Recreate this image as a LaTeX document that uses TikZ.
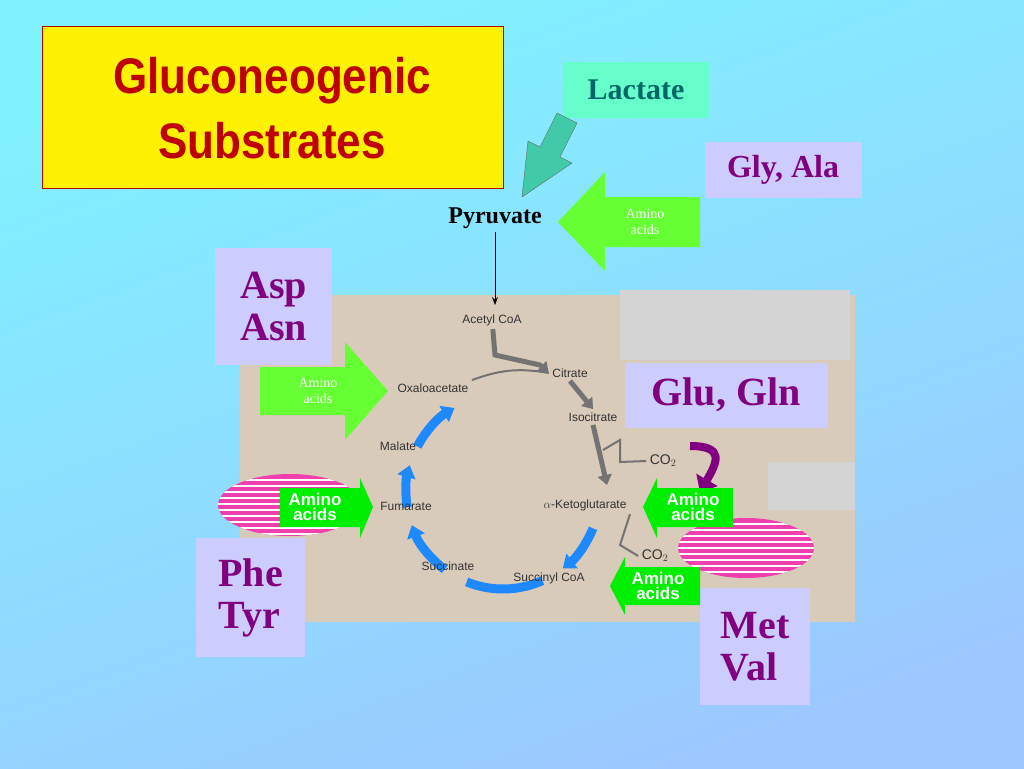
\documentclass[tikz,border=0pt]{standalone}
\usepackage{fontspec}
\setmainfont{Liberation Serif}
\setsansfont{Liberation Sans}
\usetikzlibrary{calc,arrows.meta}
\definecolor{skytop}{HTML}{80F2FF}
\definecolor{skybot}{HTML}{9CC8FF}
\definecolor{lav}{HTML}{CCCCFF}
\definecolor{purp}{HTML}{800080}
\definecolor{tan}{HTML}{D9CBB9}
\definecolor{aqua}{HTML}{66FFCC}
\definecolor{teal}{HTML}{006666}
\definecolor{lgreen}{HTML}{66FF33}
\definecolor{bgreen}{HTML}{00EE00}
\definecolor{cycblue}{HTML}{1E88FF}
\definecolor{pinky}{HTML}{F040B0}
\tikzset{
  lavbox/.style={fill=lav, text=purp, font=\bfseries\fontsize{40}{42}\selectfont, align=left, inner sep=8pt},
  cyc/.style={font=\sffamily\fontsize{12}{13}\selectfont, text=black!80},
  aminosmall/.style={text=white, font=\fontsize{14}{16}\selectfont, align=center},
  aminobold/.style={text=white, font=\sffamily\bfseries\fontsize{17}{15}\selectfont, align=center},
  bluearc/.style={cycblue, line width=9pt},
  bluetip/.style={-{Triangle[length=12pt,width=18pt]}},
  grayarr/.style={black!55, line width=5pt, -{Triangle[length=10pt,width=14pt]}},
}
\begin{document}
\begin{tikzpicture}[x=1pt,y=-1pt]
  \shade[top color=skytop, bottom color=skybot, shading angle=20] (0,0) rectangle (1024,768);
  \useasboundingbox (0,0) rectangle (1024,768);

  % title
  \node (title) [draw=red!70!black, fill=yellow, minimum width=461pt, minimum height=162pt, anchor=north west] at (42,26) {};
  \node (titletxt) at (272,108) [xscale=0.88, text=red!75!black, font=\sffamily\bfseries\fontsize{50}{65}\selectfont, align=center] {Gluconeogenic\\Substrates};

  % board
  \fill[tan] (240,295) rectangle (855,622);
  \fill[black!17] (620,290) rectangle (850,360);
  \fill[black!17] (768,462) rectangle (855,510);

  \node (lact) [fill=aqua, text=teal, font=\bfseries\fontsize{30}{32}\selectfont, minimum width=147pt, minimum height=56pt] at (636,90) {Lactate};
  \node (glyala) [lavbox, font=\bfseries\fontsize{32}{34}\selectfont, minimum width=157pt, minimum height=56pt] at (783,170) {Gly, Ala};
  \node (pyr) [font=\bfseries\fontsize{24}{26}\selectfont] at (495,218) {Pyruvate};
  \node (asp) [lavbox, minimum width=117pt, minimum height=117pt, anchor=north west] at (215,248) {Asp\\Asn};
  \node (glu) [lavbox, minimum width=203pt, minimum height=65pt] at (726,395) {Glu, Gln};
  \node (phe) [lavbox, minimum width=109pt, minimum height=119pt, anchor=north west] at (196,538) {Phe\\Tyr};
  \node (met) [lavbox, minimum width=110pt, minimum height=117pt, anchor=north west] at (700,588) {Met\\Val};

  % lactate arrow
  \filldraw[fill=aqua!65!teal, draw=black!60] (557,113) -- (577,123) -- (560,157) -- (572,163) -- (522,197) -- (528,141) -- (540,147) -- cycle;
  % amino acids arrows
  \fill[lgreen] (700,197) -- (605,197) -- (605,172) -- (558,222) -- (605,271) -- (605,247) -- (700,247) -- cycle;
  \node (aa1) [aminosmall] at (645,222) {Amino\\acids};
  \fill[lgreen] (260,367) -- (345,367) -- (345,342) -- (388,391) -- (345,440) -- (345,415) -- (260,415) -- cycle;
  \node (aa2) [aminosmall] at (318,391) {Amino\\acids};
  \draw[-{Stealth[length=8pt]}, thick] (pyr) -- (495,305);

  % pink blobs
  \begin{scope}
    \clip (290,505) ellipse (72 and 31);
    \fill[pinky] (210,470) rectangle (370,540);
    \foreach \y in {480,486,...,536} \draw[white, line width=1.3pt] (215,\y) -- (365,\y);
  \end{scope}
  \begin{scope}
    \clip (746,548) ellipse (68 and 30);
    \fill[pinky] (670,515) rectangle (820,580);
    \foreach \y in {524,530,...,576} \draw[white, line width=1.3pt] (675,\y) -- (815,\y);
  \end{scope}

  % blue cycle
  \coordinate (ctr) at (503,492);
  \draw[bluearc, bluetip] ($(ctr)+(22:97)$) arc[start angle=22, end angle=52, radius=97];
  \draw[bluearc] ($(ctr)+(66:97)$) arc[start angle=66, end angle=112, radius=97];
  \draw[bluearc, bluetip] ($(ctr)+(127:97)$) arc[start angle=127, end angle=160, radius=97];
  \draw[bluearc, bluetip] ($(ctr)+(171:97)$) arc[start angle=171, end angle=196, radius=97];
  \draw[bluearc, bluetip] ($(ctr)+(208:97)$) arc[start angle=208, end angle=240, radius=97];

  % cycle labels
  \node (acoa) [cyc] at (492,320) {Acetyl CoA};
  \node (cit)  [cyc] at (570,373) {Citrate};
  \node (oaa)  [cyc] at (433,388) {Oxaloacetate};
  \node (iso)  [cyc] at (593,417) {Isocitrate};
  \node (mal)  [cyc] at (398,446) {Malate};
  \node (co2a) [cyc, font=\sffamily\fontsize{14}{14}\selectfont] at (663,461) {CO$_2$};
  \node (akg)  [cyc] at (585,505) {$\alpha$-Ketoglutarate};
  \node (fum)  [cyc] at (406,506) {Fumarate};
  \node (co2b) [cyc, font=\sffamily\fontsize{14}{14}\selectfont] at (655,556) {CO$_2$};
  \node (suc)  [cyc] at (448,566) {Succinate};
  \node (sca)  [cyc] at (549,578) {Succinyl CoA};

  % gray arrows
  \draw[grayarr] (acoa) -- (495,355) -- (540,365) -- (cit.west);
  \draw[black!55, line width=2pt] (cit.west) to[out=170, in=20] (oaa.north east);
  \draw[grayarr] (cit.south) -- (iso.north);
  \draw[grayarr] (iso.south) -- (607,485);
  \draw[black!55, line width=2pt] (603,450) -- (620,440) -- (620,462) -- (co2a.west);
  \draw[black!55, line width=2pt] (akg.south east) -- (620,545) -- (co2b.west);

  % purple arrow
  \draw[purp, line width=8pt, -{Triangle[length=14pt,width=24pt]}] (690,446) to[out=0, in=60, looseness=1.9] (700,492);

  % small amino arrows
  \fill[bgreen] (280,488) -- (360,488) -- (360,478) -- (373,507) -- (360,538) -- (360,527) -- (280,527) -- cycle;
  \node (aa3) [aminobold] at (315,507) {Amino\\acids};
  \fill[bgreen] (733,488) -- (657,488) -- (657,478) -- (643,507) -- (657,538) -- (657,527) -- (733,527) -- cycle;
  \node (aa4) [aminobold] at (693,507) {Amino\\acids};
  \fill[bgreen] (700,567) -- (625,567) -- (625,557) -- (610,586) -- (625,615) -- (625,605) -- (700,605) -- cycle;
  \node (aa5) [aminobold] at (658,586) {Amino\\acids};
\end{tikzpicture}
\end{document}
